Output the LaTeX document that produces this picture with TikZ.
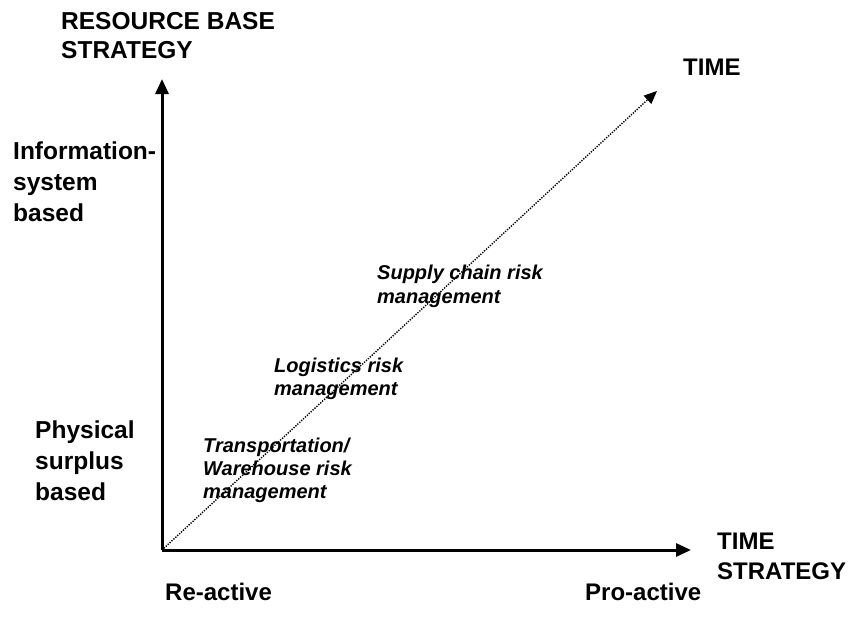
\documentclass[tikz,border=0pt]{standalone}
\usepackage{fontspec}
\setmainfont{Liberation Sans}
\usetikzlibrary{arrows.meta}
\tikzset{
  axis/.style={line width=3pt, -{Triangle[length=15pt,width=13pt]}},
  timeline/.style={line width=1.4pt, dash pattern=on 1.3pt off 1.3pt, -{Triangle[length=13pt,width=11pt]}},
  biglabel/.style={anchor=north west, inner sep=0pt, align=left, font=\fontsize{24}{30}\selectfont\bfseries},
  itlabel/.style={anchor=north west, inner sep=0pt, align=left, font=\fontsize{20}{23}\selectfont\bfseries\itshape},
}
\begin{document}
\begin{tikzpicture}[x=1pt,y=-1pt]
\useasboundingbox (0,0) rectangle (851,626);
\coordinate (O) at (162,550);
\coordinate (ytip) at (162,79);
\coordinate (xtip) at (691,550);
\coordinate (dtip) at (657,91);
\draw[timeline] (O) -- (dtip);
\draw[axis] (O) -- (ytip);
\draw[axis] (O) -- (xtip);
\node[biglabel, font=\fontsize{24.5}{29}\selectfont\bfseries] (rbs) at (61,12) {RESOURCE BASE\\STRATEGY};
\node[biglabel] (time) at (683,59) {TIME};
\node[biglabel, font=\fontsize{24.5}{31}\selectfont\bfseries] (info) at (13,142) {Information-\\system\\based};
\node[biglabel, font=\fontsize{24.5}{31}\selectfont\bfseries] (phys) at (35,421) {Physical\\surplus\\based};
\node[biglabel] (ts) at (717,533) {TIME\\STRATEGY};
\node[biglabel] (re) at (165,583) {Re-active};
\node[biglabel] (pro) at (585,583) {Pro-active};
\node[itlabel] (tw) at (203,438) {Transportation/\\Warehouse risk\\management};
\node[itlabel] (lg) at (274,358) {Logistics risk\\management};
\node[itlabel, font=\fontsize{20}{24}\selectfont\bfseries\itshape] (sc) at (377,265) {Supply chain risk\\management};
\end{tikzpicture}
\end{document}
